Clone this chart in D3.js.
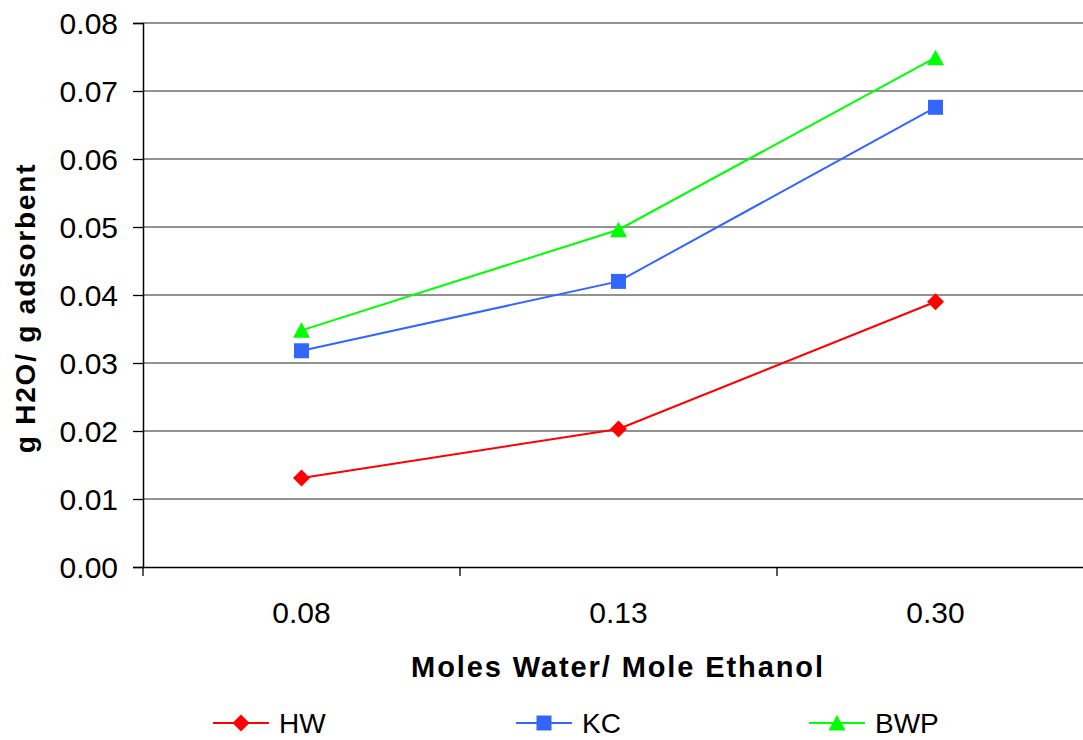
<!DOCTYPE html>
<html>
<head>
<meta charset="utf-8">
<script src="https://cdn.jsdelivr.net/npm/d3@7"></script>
<style>
  html, body { margin: 0; padding: 0; background: #fff; }
  svg { display: block; font-family: "Liberation Sans", Arial, sans-serif; }
</style>
</head>
<body>
<svg id="chart" width="1083" height="740"></svg>
<script>
const categories = ["0.08", "0.13", "0.30"];
const seriesNames = ["HW", "KC", "BWP"];
const hwValues = [0.0131, 0.0203, 0.0390];
const kcValues = [0.0318, 0.0420, 0.0676];
const bwpValues = [0.0348, 0.0496, 0.0749];
const yTicks = [0, 0.01, 0.02, 0.03, 0.04, 0.05, 0.06, 0.07, 0.08];

(function () {
const series = [
  { name: seriesNames[0], values: hwValues, color: "#FF0000", shape: "diamond" },
  { name: seriesNames[1], values: kcValues, color: "#3366FF", shape: "square" },
  { name: seriesNames[2], values: bwpValues, color: "#00FF00", shape: "triangle" }
];

const svg = d3.select("#chart");
const mLeft = 143, mTop = 23, mBottom = 567, mRight = 1094;

const x = d3.scaleBand().domain(categories).range([mLeft, mRight]);
const y = d3.scaleLinear().domain([0, 0.08]).range([mBottom, mTop]);

// gridlines
svg.append("g").selectAll("line").data(yTicks.filter(d => d > 0)).join("line")
  .attr("x1", mLeft).attr("x2", mRight)
  .attr("y1", d => y(d)).attr("y2", d => y(d))
  .attr("stroke", "#6e6e6e").attr("stroke-width", 1.4);

// y axis
const yAxis = svg.append("g").attr("transform", `translate(${mLeft},0)`)
  .call(d3.axisLeft(y).tickValues(yTicks).tickFormat(d3.format(".2f")).tickSizeOuter(0).tickSize(10).tickPadding(15));
yAxis.select(".domain").attr("stroke", "#000").attr("stroke-width", 1.5);
yAxis.selectAll(".tick line").attr("stroke", "#000").attr("stroke-width", 1.3);
yAxis.selectAll(".tick text").attr("font-size", "30px").attr("fill", "#000")
  .attr("font-family", "'Liberation Sans', Arial, sans-serif").attr("dy", "0.36em");

// x axis
const xAxis = svg.append("g").attr("transform", `translate(0,${mBottom})`)
  .call(d3.axisBottom(x).tickSize(0).tickSizeOuter(0).tickPadding(35));
xAxis.select(".domain").attr("stroke", "#000").attr("stroke-width", 1.5);
xAxis.selectAll(".tick text").attr("font-size", "30px").attr("fill", "#000")
  .attr("font-family", "'Liberation Sans', Arial, sans-serif");
// category boundary ticks
const bounds = categories.map(c => x(c)).concat([x(categories[categories.length - 1]) + x.bandwidth()]);
svg.append("g").selectAll("line").data(bounds).join("line")
  .attr("x1", d => d).attr("x2", d => d)
  .attr("y1", mBottom).attr("y2", mBottom + 9)
  .attr("stroke", "#000").attr("stroke-width", 1.3);

// lines
const cx = (i) => x(categories[i]) + x.bandwidth() / 2;
const line = d3.line().x((d, i) => cx(i)).y(d => y(d));

function drawMarker(g, shape, color, px, py) {
  if (shape === "diamond") {
    g.append("path").attr("d", `M${px},${py - 8.5}L${px + 8.5},${py}L${px},${py + 8.5}L${px - 8.5},${py}Z`).attr("fill", color);
  } else if (shape === "square") {
    g.append("rect").attr("x", px - 7.5).attr("y", py - 7.5).attr("width", 15).attr("height", 15).attr("fill", color);
  } else {
    g.append("path").attr("d", `M${px},${py - 8}L${px + 8.5},${py + 7.5}L${px - 8.5},${py + 7.5}Z`).attr("fill", color);
  }
}

series.forEach(s => {
  const g = svg.append("g");
  g.append("path").datum(s.values).attr("d", line)
    .attr("fill", "none").attr("stroke", s.color).attr("stroke-width", 2);
  s.values.forEach((v, i) => drawMarker(g, s.shape, s.color, cx(i), y(v)));
});

// axis titles
svg.append("text")
  .attr("x", 618).attr("y", 677)
  .attr("text-anchor", "middle")
  .attr("font-size", "29px").attr("font-weight", "bold")
  .attr("letter-spacing", "1.9px")
  .text("Moles Water/ Mole Ethanol");

svg.append("text")
  .attr("transform", "translate(35,308) rotate(-90)")
  .attr("text-anchor", "middle")
  .attr("font-size", "28px").attr("font-weight", "bold")
  .attr("letter-spacing", "1.8px")
  .text("g H2O/ g adsorbent");

// legend
const legendX = [213, 516, 809];
const legendY = 723;
series.forEach((s, i) => {
  const g = svg.append("g");
  const lx = legendX[i];
  g.append("line").attr("x1", lx).attr("x2", lx + 56).attr("y1", legendY).attr("y2", legendY)
    .attr("stroke", s.color).attr("stroke-width", 2);
  drawMarker(g, s.shape, s.color, lx + 28, legendY);
  g.append("text").attr("x", lx + 66).attr("y", legendY).attr("dy", "0.36em")
    .attr("font-size", "28px").attr("fill", "#000").text(s.name);
});
})();
</script>
</body>
</html>
